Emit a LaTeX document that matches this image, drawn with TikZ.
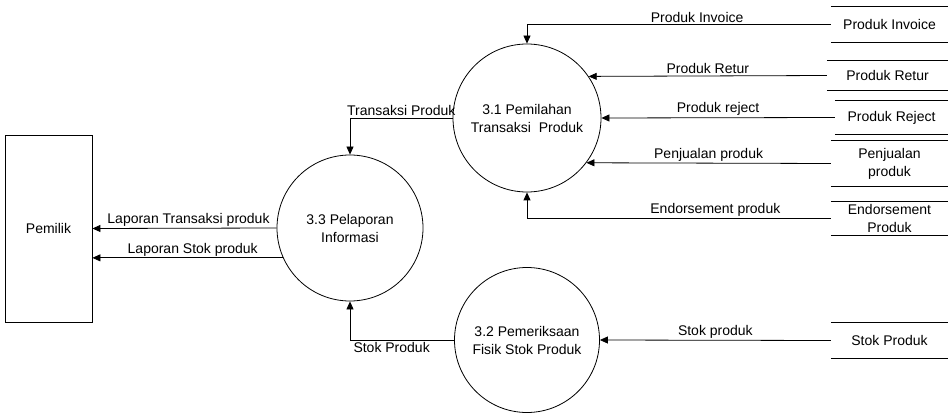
\documentclass[tikz,border=0pt]{standalone}
\usepackage{fontspec}
\setmainfont{Liberation Sans}
\usetikzlibrary{arrows.meta}
\begin{document}
\begin{tikzpicture}[x=1pt,y=-1pt,
  every node/.style={font=\fontsize{14}{18}\selectfont},
  proc/.style={draw, circle, line width=0.8pt, align=center, inner sep=0pt},
  ent/.style={draw, rectangle, line width=0.8pt, align=center, minimum width=87pt, minimum height=187pt},
  store/.style={rectangle, align=center, minimum width=117pt, inner sep=0pt},
  flow/.style={draw, line width=0.8pt, -{Triangle[length=8pt,width=7pt]}},
  lbl/.style={inner sep=1.5pt}]
\useasboundingbox (0,0) rectangle (950,414);

% entity
\node[ent] (pem) at (48.5,228.5) {Pemilik};

% processes
\node[proc, minimum size=148pt] (p1) at (527,118) {3.1 Pemilahan\\Transaksi~\ Produk};
\node[proc, minimum size=146pt] (p3) at (350,228) {3.3 Pelaporan\\Informasi};
\node[proc, minimum size=145pt] (p2) at (527,340) {3.2 Pemeriksaan\\Fisik Stok Produk};

% stores
\node[store, minimum height=35pt] (s1) at (889.5,24.5) {Produk Invoice};
\node[store, minimum height=29pt, minimum width=121pt] (s2) at (887.5,75.5) {Produk Retur};
\node[store, minimum height=33pt, minimum width=113pt] (s3) at (891.5,117.5) {Produk Reject};
\node[store, minimum height=45pt] (s4) at (889.5,163.5) {Penjualan\\produk};
\node[store, minimum height=33pt] (s5) at (889.5,218.5) {Endorsement\\Produk};
\node[store, minimum height=35pt] (s6) at (889.5,340.5) {Stok Produk};
\foreach \s in {s1,s2,s3,s4,s5,s6}{
  \draw[line width=0.8pt] (\s.north west) -- (\s.north east);
  \draw[line width=0.8pt] (\s.south west) -- (\s.south east);
}

% flows into 3.1
\draw[flow] (s1.west) -| (p1.north) node[lbl, above, pos=0.22] {Produk Invoice};
\draw[flow] (s2.west) -- (p1.34.6) node[lbl, above, midway] {Produk Retur};
\draw[flow] (s3.west) -- (p1.east) node[lbl, above, midway] {Produk reject};
\draw[flow] (s4.west) -- (p1.-37.5) node[lbl, above, midway] {Penjualan produk};
\draw[flow] (s5.west) -| (p1.south) node[lbl, above, pos=0.19] {Endorsement produk};

% flow into 3.2
\draw[flow] (s6.west) -- (p2.east) node[lbl, above, midway] {Stok produk};

% flows into 3.3
\draw[flow] (p1.west) -| (p3.north) node[lbl, above, pos=0.25] {Transaksi Produk};
\draw[flow] (p2.west) -| (p3.south) node[lbl, below, pos=0.3] {Stok Produk};

% flows to Pemilik
\draw[flow] (p3.west) -- (pem.east) node[lbl, above, midway, xshift=4pt] {Laporan Transaksi produk};
\coordinate (ls) at (p3.204.3);
\draw[flow] (ls) -- (ls -| pem.east) node[lbl, above, midway, xshift=5pt] {Laporan Stok produk};
\end{tikzpicture}
\end{document}
